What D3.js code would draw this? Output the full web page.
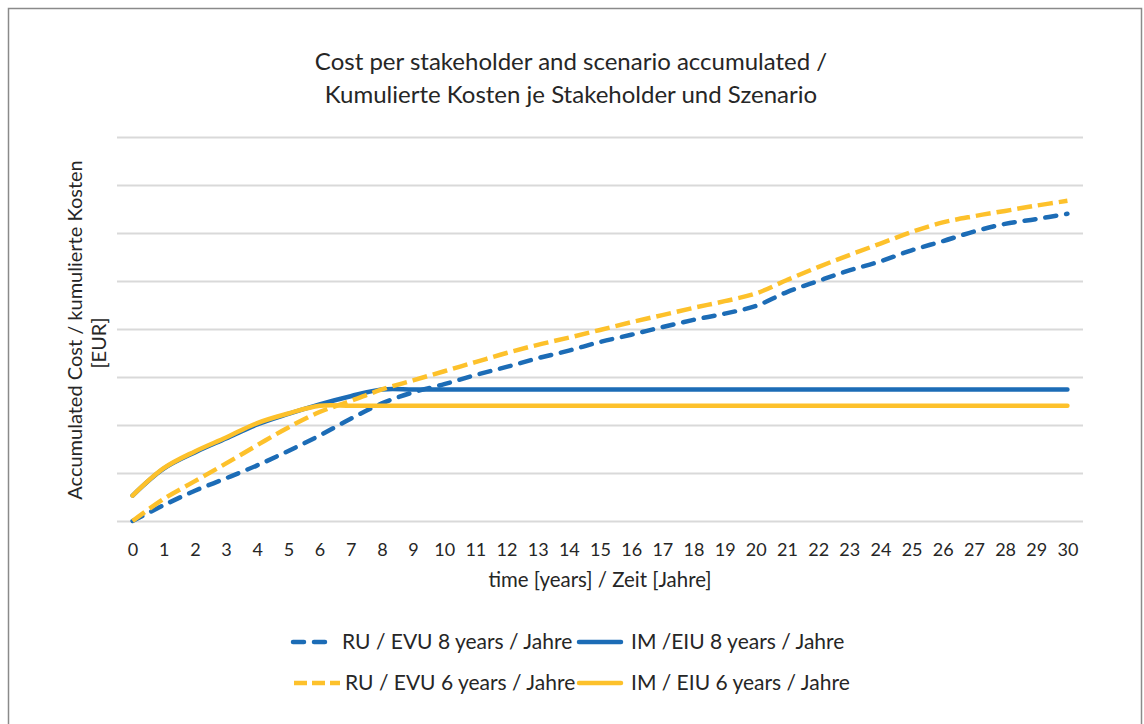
<!DOCTYPE html>
<html>
<head>
<meta charset="utf-8">
<script src="https://cdn.jsdelivr.net/npm/d3@7"></script>
<style>
  html, body { margin: 0; padding: 0; background: #ffffff; }
  svg { display: block; }
  text { font-family: Lato, "Open Sans", sans-serif; fill: #262626; }
</style>
</head>
<body>
<svg id="chart" width="1144" height="724"></svg>
<script>
// Years on the category axis
const years = d3.range(0, 31);
const yTicks = [0, 1, 2, 3, 4, 5, 6, 7, 8];

// Accumulated cost per stakeholder and scenario (chart units)
const ru8 = [0, 0.33, 0.63, 0.89, 1.16, 1.46, 1.78, 2.13, 2.45, 2.68, 2.85,
             3.04, 3.21, 3.39, 3.55, 3.73, 3.88, 4.04, 4.19, 4.32, 4.48,
             4.77, 5.0, 5.22, 5.41, 5.64, 5.83, 6.03, 6.19, 6.29, 6.4];
const im8 = [0.53, 1.09, 1.43, 1.72, 2.01, 2.23, 2.43, 2.6, 2.74, 2.74, 2.74,
             2.74, 2.74, 2.74, 2.74, 2.74, 2.74, 2.74, 2.74, 2.74, 2.74,
             2.74, 2.74, 2.74, 2.74, 2.74, 2.74, 2.74, 2.74, 2.74, 2.74];
const ru6 = [0, 0.46, 0.83, 1.2, 1.58, 1.95, 2.27, 2.5, 2.74, 2.93, 3.12,
             3.31, 3.5, 3.67, 3.82, 3.98, 4.14, 4.29, 4.44, 4.58, 4.74,
             5.02, 5.29, 5.54, 5.78, 6.02, 6.22, 6.35, 6.46, 6.57, 6.67];
const im6 = [0.53, 1.1, 1.45, 1.74, 2.04, 2.24, 2.4, 2.4, 2.4, 2.4, 2.4,
             2.4, 2.4, 2.4, 2.4, 2.4, 2.4, 2.4, 2.4, 2.4, 2.4,
             2.4, 2.4, 2.4, 2.4, 2.4, 2.4, 2.4, 2.4, 2.4, 2.4];

const seriesNames = [
  "RU / EVU 8 years / Jahre",
  "IM /EIU 8 years / Jahre",
  "RU / EVU 6 years / Jahre",
  "IM / EIU 6 years / Jahre"
];

const titleLines = [
  "Cost per stakeholder and scenario accumulated /",
  "Kumulierte Kosten je Stakeholder und Szenario"
];
const yTitleLines = ["Accumulated Cost / kumulierte Kosten", "[EUR]"];
const xTitle = "time [years] / Zeit [Jahre]";

const BLUE = "#1c6cb6";
const YELLOW = "#fdc12b";

const series = [
  { name: seriesNames[0], values: ru8, color: BLUE, dashed: true, cap: "round" },
  { name: seriesNames[1], values: im8, color: BLUE, dashed: false, cap: "round" },
  { name: seriesNames[2], values: ru6, color: YELLOW, dashed: true, cap: "butt" },
  { name: seriesNames[3], values: im6, color: YELLOW, dashed: false, cap: "round" }
];

const svg = d3.select("#chart");

// Outer chart frame
svg.append("rect")
  .attr("x", 8.5).attr("y", 8.5)
  .attr("width", 1133).attr("height", 740)
  .attr("fill", "#ffffff")
  .attr("stroke", "#8a8a8a")
  .attr("stroke-width", 1.5);

const plot = { left: 117, right: 1083, top: 137, bottom: 521 };

const x = d3.scalePoint()
  .domain(years)
  .range([plot.left, plot.right])
  .padding(0.5);

const y = d3.scaleLinear()
  .domain([0, 8])
  .range([plot.bottom, plot.top]);

// Horizontal gridlines
const yAxis = d3.axisLeft(y)
  .tickValues(yTicks)
  .tickSize(-(plot.right - plot.left))
  .tickFormat("");
const gy = svg.append("g")
  .attr("transform", `translate(${plot.left},0)`)
  .call(yAxis);
gy.select(".domain").remove();
gy.selectAll(".tick line")
  .attr("stroke", "#d9d9d9")
  .attr("stroke-width", 2);

// Category axis labels
const xAxis = d3.axisBottom(x).tickSize(0).tickPadding(0);
const gx = svg.append("g")
  .attr("transform", `translate(0,${plot.bottom})`)
  .call(xAxis);
gx.select(".domain").remove();
gx.selectAll(".tick text")
  .attr("dy", null)
  .attr("y", 35)
  .style("font-size", "18px")
  .style("font-family", "Lato, sans-serif")
  .attr("fill", "#262626");

// Series lines (smoothed)
const line = d3.line()
  .x((d, i) => x(years[i]))
  .y(d => y(d))
  .curve(d3.curveCatmullRom.alpha(0.5));

svg.append("g").selectAll("path")
  .data(series)
  .join("path")
  .attr("d", d => line(d.values))
  .attr("fill", "none")
  .attr("stroke", d => d.color)
  .attr("stroke-width", 4.5)
  .attr("stroke-linecap", d => d.cap)
  .attr("stroke-linejoin", "round")
  .attr("stroke-dasharray", d => d.dashed ? (d.cap === "round" ? "11,10" : "15,6") : null);

// Title
svg.append("g").selectAll("text")
  .data(titleLines)
  .join("text")
  .attr("x", 571)
  .attr("y", (d, i) => 70 + i * 33)
  .attr("text-anchor", "middle")
  .style("font-size", "24px")
  .text(d => d);

// Axis titles
svg.append("g").selectAll("text")
  .data(yTitleLines)
  .join("text")
  .attr("transform", (d, i) => `translate(${82 + i * 24},${i === 0 ? 330 : 343}) rotate(-90)`)
  .attr("text-anchor", "middle")
  .style("font-size", "20px")
  .text(d => d);

svg.append("text")
  .attr("x", 600)
  .attr("y", 587)
  .attr("text-anchor", "middle")
  .style("font-size", "20.4px")
  .text(xTitle);

// Legend: two columns, two rows
const legendPos = [
  { sx: 291, tx: 342, y: 642 },
  { sx: 577, tx: 631, y: 642 },
  { sx: 294, tx: 345, y: 683 },
  { sx: 577, tx: 631, y: 683 }
];
const legend = svg.append("g").selectAll("g")
  .data(series)
  .join("g")
  .attr("transform", (d, i) => `translate(0,${legendPos[i].y})`);

legend.append("line")
  .attr("x1", (d, i) => legendPos[i].sx + (d.cap === "round" ? 2 : 0))
  .attr("x2", (d, i) => legendPos[i].sx + 46 - (d.cap === "round" ? 2 : 0))
  .attr("y1", 0).attr("y2", 0)
  .attr("stroke", d => d.color)
  .attr("stroke-width", 4.5)
  .attr("stroke-linecap", d => d.cap)
  .attr("stroke-dasharray", d => d.dashed ? (d.cap === "round" ? "11,10" : "13,5") : null);

legend.append("text")
  .attr("x", (d, i) => legendPos[i].tx)
  .attr("y", 7)
  .style("font-size", "21px")
  .text(d => d.name);
</script>
</body>
</html>
